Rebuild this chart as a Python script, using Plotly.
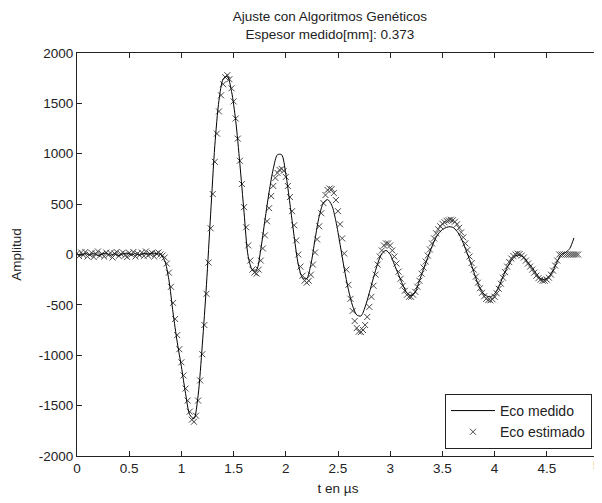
import numpy as np
import plotly.graph_objects as go

# Eco medido (line), sampled every 0.04 us
medido_step = 0.04
medido_vals = [
    5, -8, 10, -5, 12, -10, 4, 15, -6, 8,
    -12, 6, 14, -4, 10, -8, 12, 3, 15, 8,
    0, -60, -250, -580, -870, -1114, -1380, -1590, -1630, -1400,
    -900, -300, 400, 1080, 1530, 1740, 1770, 1620, 1330, 900,
    420, -20, -150, -150, 50, 340, 620, 850, 990, 990,
    800, 500, 180, -100, -230, -240, -100, 150, 380, 510,
    545, 490, 330, 100, -140, -350, -510, -600, -610, -520,
    -380, -230, -90, 10, 40, 0, -100, -200, -300, -380,
    -410, -370, -260, -140, -30, 80, 170, 230, 260, 275,
    270, 230, 160, 60, -50, -170, -290, -370, -410, -420,
    -390, -320, -220, -130, -60, -15, -5, -30, -80, -130,
    -190, -240, -250, -220, -160, -70, 0, 20, 60, 165,
]

# Eco estimado (markers), sampled every 0.02 us
estimado_step = 0.02
estimado_vals = [
    10, -15, 20, -5, 25, -20, 0, 15, -25, 10,
    30, -10, 5, -20, 20, -5, 15, -30, 10, 25,
    -15, 5, 20, -10, -25, 15, 0, 25, -20, 10,
    -5, 20, -15, 30, -10, 5, 15, -20, 10, 20,
    0, -10, -30, -90, -180, -320, -480, -640, -800, -940,
    -1070, -1200, -1330, -1450, -1560, -1640, -1660, -1600, -1450, -1250,
    -990, -700, -390, -80, 260, 600, 920, 1200, 1420, 1580,
    1690, 1760, 1780, 1740, 1650, 1520, 1350, 1150, 930, 700,
    470, 270, 90, -60, -150, -180, -190, -150, -60, 60,
    190, 330, 460, 580, 680, 760, 810, 840, 850, 830,
    770, 680, 570, 430, 290, 140, 0, -120, -210, -260,
    -280, -260, -200, -100, 20, 150, 280, 410, 510, 590,
    640, 655, 650, 610, 540, 430, 300, 160, 10, -150,
    -300, -440, -560, -660, -730, -765, -770, -750, -700, -620,
    -520, -420, -310, -200, -100, -20, 40, 90, 110, 110,
    90, 40, -20, -90, -170, -240, -310, -360, -400, -420,
    -420, -400, -370, -320, -260, -190, -130, -70, -10, 50,
    110, 160, 210, 250, 280, 305, 320, 335, 340, 345,
    340, 325, 300, 265, 220, 170, 110, 45, -20, -85,
    -150, -220, -280, -335, -380, -415, -440, -452, -455, -445,
    -420, -385, -340, -290, -230, -175, -120, -75, -40, -15,
    0, 8, 5, -10, -30, -60, -90, -120, -150, -180,
    -210, -235, -250, -260, -260, -250, -230, -200, -160, -110,
    -60, 0, 0, 0, 0, 0, 0, 0, 0, 0,
    0,
]

x_ticks = [0, 0.5, 1, 1.5, 2, 2.5, 3, 3.5, 4, 4.5, 5]
x_ticklabels = ["0", "0.5", "1", "1.5", "2", "2.5", "3", "3.5", "4", "4.5", "5"]
y_ticks = [-2000, -1500, -1000, -500, 0, 500, 1000, 1500, 2000]
y_ticklabels = [str(v) for v in y_ticks]

t_medido = np.round(np.arange(len(medido_vals)) * medido_step, 4)
t_estimado = np.round(np.arange(len(estimado_vals)) * estimado_step, 4)

FONT = "Liberation Sans, Arial, Helvetica, sans-serif"
FS = 13.5

fig = go.Figure()
fig.add_trace(go.Scatter(
    x=t_estimado, y=estimado_vals, mode="markers", name="Eco estimado",
    marker=dict(symbol="x-thin", size=6, color="#484848",
                line=dict(width=1, color="#484848")),
    legendrank=2,
))
fig.add_trace(go.Scatter(
    x=t_medido, y=medido_vals, mode="lines", name="Eco medido",
    line=dict(color="black", width=1, shape="spline", smoothing=0.8),
    legendrank=1,
))

# the last x tick label sits at the very edge of the page; draw it as an
# annotation anchored at the axis end so it is not dropped
shown_x_labels = x_ticklabels[:-1] + [""]
fig.add_annotation(
    x=x_ticks[-1], xref="x", y=0, yref="paper", yanchor="top",
    text=x_ticklabels[-1], showarrow=False, xshift=-2,
    font=dict(family=FONT, size=FS, color="#222"),
)

# page body has an 8px default margin: figure spans screen 8..602 x 8..503
fig.update_layout(
    width=594, height=495,
    margin=dict(l=69, r=3, t=45, b=47),
    paper_bgcolor="white", plot_bgcolor="white",
    font=dict(family=FONT, size=FS, color="#222"),
    title=dict(text="Ajuste con Algoritmos Genéticos<br>Espesor medido[mm]: 0.373",
               x=0.542, xanchor="center", y=0.973, yanchor="top",
               pad=dict(t=0, b=0),
               font=dict(family=FONT, size=FS, color="#222")),
    showlegend=True,
    legend=dict(x=0.9866, xanchor="right", y=0.0174, yanchor="bottom",
                bgcolor="white", bordercolor="#222", borderwidth=1,
                font=dict(family=FONT, size=14, color="#222"),
                itemwidth=44, tracegroupgap=0),
)
fig.update_xaxes(
    range=[0, 5], tickvals=x_ticks, ticktext=shown_x_labels,
    ticks="inside", ticklen=5, tickcolor="#222", mirror="allticks",
    showline=True, linecolor="#222", linewidth=1,
    showgrid=False, zeroline=False,
    title=dict(text="t en µs", standoff=8, font=dict(family=FONT, size=FS)),
    automargin=False,
)
fig.update_yaxes(
    range=[-2000, 2000], tickvals=y_ticks, ticktext=y_ticklabels,
    ticks="inside", ticklen=5, tickcolor="#222", mirror="allticks",
    showline=True, linecolor="#222", linewidth=1,
    showgrid=False, zeroline=False,
    title=dict(text="Amplitud", standoff=14, font=dict(family=FONT, size=FS)),
    automargin=False,
)

fig.write_html("out.html")
